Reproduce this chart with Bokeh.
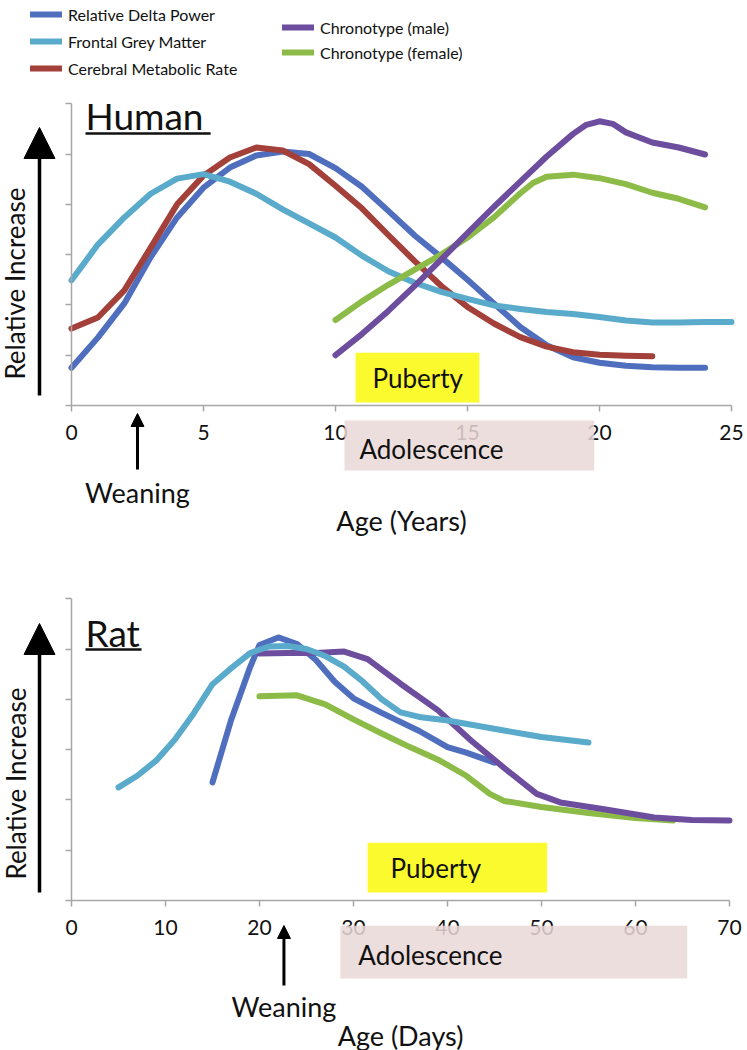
import math
from bokeh.plotting import figure
from bokeh.models import (Range1d, LinearAxis, FixedTicker, Label, Arrow, NormalHead,
                          Legend, LegendItem)
from bokeh.layouts import column
from bokeh.embed import file_html
from bokeh.resources import INLINE

FONT = "Lato"

# ---------------- data: Human (age in years) ----------------
human_delta_x = [0, 1, 2, 3, 4, 5, 6, 7, 8, 9, 10, 11, 12, 13, 14, 15, 16, 17, 18, 19, 20, 21, 22, 23, 24]
human_delta_y = [0.75, 1.35, 2.03, 2.95, 3.74, 4.33, 4.73, 4.97, 5.05, 5.0, 4.72, 4.35, 3.87, 3.38, 2.95,
                 2.5, 2.03, 1.56, 1.2, 0.96, 0.85, 0.79, 0.76, 0.75, 0.75]
human_grey_x = [0, 1, 2, 3, 4, 5, 6, 7, 8, 9, 10, 11, 12, 13, 14, 15, 16, 17, 18, 19, 20, 21, 22, 23, 24, 25]
human_grey_y = [2.49, 3.2, 3.74, 4.21, 4.51, 4.6, 4.45, 4.21, 3.9, 3.62, 3.34, 2.98, 2.67, 2.44, 2.26,
                2.12, 1.99, 1.92, 1.86, 1.82, 1.76, 1.69, 1.65, 1.65, 1.66, 1.66]
human_cmr_x = [0, 1, 2, 3, 4, 5, 6, 7, 8, 9, 10, 11, 12, 13, 14, 15, 16, 17, 18, 19, 20, 21, 22]
human_cmr_y = [1.53, 1.75, 2.29, 3.14, 4.0, 4.57, 4.93, 5.13, 5.07, 4.8, 4.37, 3.92, 3.39, 2.87, 2.38,
               1.96, 1.63, 1.36, 1.17, 1.06, 1.01, 0.99, 0.98]
human_male_x = [10, 11, 12, 13, 14, 15, 16, 17, 18, 19, 19.5, 20, 20.5, 21, 22, 23, 24]
human_male_y = [1.0, 1.42, 1.88, 2.38, 2.9, 3.43, 3.95, 4.45, 4.95, 5.4, 5.58, 5.65, 5.6, 5.43, 5.23, 5.13, 4.99]
human_female_x = [10, 11, 12, 13, 14, 15, 16, 17, 17.5, 18, 19, 20, 21, 22, 23, 24]
human_female_y = [1.7, 2.07, 2.4, 2.7, 3.0, 3.34, 3.74, 4.22, 4.43, 4.55, 4.59, 4.52, 4.4, 4.23, 4.11, 3.94]

human_xticks = [0, 5, 10, 15, 20, 25]
human_yticks = [0, 1, 2, 3, 4, 5, 6]
human_puberty = (10.76, 15.45)
human_adolescence = (10.34, 19.8)
human_weaning = 2.5

# ---------------- data: Rat (age in days) ----------------
rat_delta_x = [15, 17, 19, 20, 22, 24, 26, 28, 30, 33, 37, 40, 42, 45]
rat_delta_y = [2.35, 3.6, 4.64, 5.08, 5.23, 5.1, 4.78, 4.35, 4.02, 3.73, 3.37, 3.05, 2.94, 2.74]
rat_grey_x = [5, 7, 9, 11, 13, 15, 17, 19, 21, 23, 25, 27, 29, 31, 33, 35, 37, 40, 43, 46, 50, 55]
rat_grey_y = [2.25, 2.48, 2.78, 3.2, 3.72, 4.3, 4.62, 4.92, 5.05, 5.06, 5.0, 4.86, 4.65, 4.35, 4.0, 3.74,
              3.65, 3.58, 3.48, 3.38, 3.25, 3.14]
rat_male_x = [20, 23, 26, 29, 31.5, 35, 39, 42.5, 46, 49.5, 52, 56.5, 62, 66, 70]
rat_male_y = [4.91, 4.92, 4.92, 4.95, 4.8, 4.31, 3.78, 3.18, 2.64, 2.12, 1.95, 1.82, 1.65, 1.6, 1.59]
rat_female_x = [20, 24, 27, 30, 33, 36, 39, 42, 44.5, 46, 50, 55, 60, 64]
rat_female_y = [4.06, 4.08, 3.9, 3.6, 3.32, 3.05, 2.8, 2.48, 2.12, 1.98, 1.86, 1.74, 1.64, 1.59]

rat_xticks = [0, 10, 20, 30, 40, 50, 60, 70]
rat_yticks = [0, 1, 2, 3, 4, 5, 6]
rat_puberty = (31.5, 50.6)
rat_adolescence = (28.6, 65.5)
rat_weaning = 22.6

# ---------------- styles ----------------
BLUE = "#4F6FBE"
LBLUE = "#5AABCB"
RED = "#A3403A"
PURPLE = "#6D4D9D"
GREEN = "#8CBB48"
YELLOW = "#FAFA2E"
PINK = "#EAD8D8"
AXIS = "#A6A6A6"
TXT = "#111111"
LW = 6


def make_fig(height, xr, yr, xticks, yticks, xlabel, label_standoff):
    p = figure(width=747, height=height, x_range=Range1d(*xr), y_range=Range1d(*yr),
               output_backend="svg", toolbar_location=None, min_border=0,
               x_axis_type=None, y_axis_type=None)
    p.outline_line_color = None
    xa = LinearAxis(fixed_location=0, bounds=(xticks[0], xticks[-1]),
                    ticker=FixedTicker(ticks=xticks))
    xa.axis_line_color = AXIS
    xa.axis_line_width = 1.5
    xa.major_tick_line_color = AXIS
    xa.major_tick_line_width = 1.5
    xa.major_tick_out = 6
    xa.major_tick_in = 0
    xa.minor_tick_line_color = None
    xa.major_label_standoff = 13
    xa.major_label_text_font = FONT
    xa.major_label_text_font_size = "21px"
    xa.major_label_text_color = TXT
    xa.axis_label = xlabel
    xa.axis_label_text_font = FONT
    xa.axis_label_text_font_size = "27px"
    xa.axis_label_text_font_style = "normal"
    xa.axis_label_text_color = TXT
    xa.axis_label_standoff = label_standoff
    p.add_layout(xa, "below")
    ya = LinearAxis(fixed_location=0, bounds=(yticks[0], yticks[-1]),
                    ticker=FixedTicker(ticks=yticks))
    ya.axis_line_color = AXIS
    ya.axis_line_width = 1.5
    ya.major_tick_line_color = AXIS
    ya.major_tick_line_width = 1.5
    ya.major_tick_out = 6
    ya.major_tick_in = 0
    ya.minor_tick_line_color = None
    ya.major_label_overrides = {t: "" for t in yticks}
    p.add_layout(ya, "left")
    return p


def decorate(p, title, title_x, title_y, ul_x1, ul_y, arrow_x, arr_y0, arr_y1, ri_x, ri_y,
             puberty, pub_y, adol, adol_y, pub_off, adol_off, wean, wean_y0, wean_y1, wean_ty):
    # Puberty box
    p.quad(left=[puberty[0]], right=[puberty[1]], bottom=[pub_y[0]], top=[pub_y[1]],
           fill_color=YELLOW, line_color=None)
    p.add_layout(Label(x=puberty[0], y=(pub_y[0] + pub_y[1]) / 2, x_offset=pub_off, text="Puberty",
                       text_font=FONT, text_font_size="26px", text_color=TXT,
                       text_align="left", text_baseline="middle"))
    # Adolescence box (drawn over axis labels)
    p.quad(left=[adol[0]], right=[adol[1]], bottom=[adol_y[0]], top=[adol_y[1]],
           fill_color=PINK, fill_alpha=0.85, line_color=None, level="overlay")
    p.add_layout(Label(x=adol[0], y=(adol_y[0] + adol_y[1]) / 2, x_offset=adol_off, y_offset=-3,
                       text="Adolescence", text_font=FONT, text_font_size="26px", text_color=TXT,
                       text_align="left", text_baseline="middle", level="overlay"))
    # title with underline
    p.add_layout(Label(x=title_x, y=title_y, text=title, text_font=FONT, text_font_size="37px",
                       text_color=TXT, text_align="left", text_baseline="middle"))
    p.line([title_x, ul_x1], [ul_y, ul_y], line_color=TXT, line_width=2.5)
    # big axis arrow + label
    p.add_layout(Arrow(end=NormalHead(size=31, fill_color="black", line_color="black"),
                       x_start=arrow_x, y_start=arr_y0, x_end=arrow_x, y_end=arr_y1,
                       line_color="black", line_width=3.5))
    p.add_layout(Label(x=ri_x, y=ri_y, text="Relative Increase", angle=math.pi / 2,
                       text_font=FONT, text_font_size="26px", text_color=TXT,
                       text_align="center", text_baseline="middle"))
    # weaning
    p.add_layout(Arrow(end=NormalHead(size=13, fill_color="black", line_color="black"),
                       x_start=wean, y_start=wean_y0, x_end=wean, y_end=wean_y1,
                       line_color="black", line_width=3))
    p.add_layout(Label(x=wean, y=wean_ty, text="Weaning", text_font=FONT, text_font_size="27px",
                       text_color=TXT, text_align="center", text_baseline="middle"))


# ---------------- Human panel ----------------
p1 = make_fig(545, (-2.689, 25.606), (-2.783, 8.052), human_xticks, human_yticks, "Age (Years)", 61)
decorate(p1, "Human", 0.53, 5.765, 5.27, 5.408, -1.212, 0.199, 5.527, -2.121, 2.425,
         human_puberty, (0.06, 1.05), human_adolescence, (-1.29, -0.30), 17, 15,
         human_weaning, -1.272, -0.159, -1.73)

kw = dict(line_width=LW, line_cap="round", line_join="round")
r_delta = p1.line(human_delta_x, human_delta_y, line_color=BLUE, **kw)
r_cmr = p1.line(human_cmr_x, human_cmr_y, line_color=RED, **kw)
r_grey = p1.line(human_grey_x, human_grey_y, line_color=LBLUE, **kw)
r_female = p1.line(human_female_x, human_female_y, line_color=GREEN, **kw)
r_male = p1.line(human_male_x, human_male_y, line_color=PURPLE, **kw)


def mk_legend(items, loc, spacing):
    lg = Legend(items=items, location=loc, orientation="vertical", padding=0, margin=0,
                spacing=spacing, glyph_width=32, glyph_height=20, label_height=20,
                label_standoff=6, label_text_font=FONT, label_text_font_size="16px",
                label_text_color=TXT, border_line_color=None, background_fill_alpha=0)
    return lg


p1.add_layout(mk_legend([LegendItem(label="Relative Delta Power", renderers=[r_delta]),
                         LegendItem(label="Frontal Grey Matter", renderers=[r_grey]),
                         LegendItem(label="Cerebral Metabolic Rate", renderers=[r_cmr])],
                        (30, 467), 7))
p1.add_layout(mk_legend([LegendItem(label="Chronotype (male)", renderers=[r_male]),
                         LegendItem(label="Chronotype (female)", renderers=[r_female])],
                        (282, 483), 5))

# ---------------- Rat panel ----------------
p2 = make_fig(505, (-7.553, 71.915), (-2.982, 7.058), rat_xticks, rat_yticks, "Age (Days)", 81)
decorate(p2, "Rat", 1.49, 5.338, 7.45, 4.99, -3.404, 0.159, 5.507, -5.957, 2.326,
         rat_puberty, (0.16, 1.15), rat_adolescence, (-1.55, -0.50), 23, 18,
         rat_weaning, -1.690, -0.497, -2.107)

p2.line(rat_delta_x, rat_delta_y, line_color=BLUE, **kw)
p2.line(rat_female_x, rat_female_y, line_color=GREEN, **kw)
p2.line(rat_male_x, rat_male_y, line_color=PURPLE, **kw)
p2.line(rat_grey_x, rat_grey_y, line_color=LBLUE, **kw)

layout = column(p1, p2, spacing=0)
open("out.html", "w").write(file_html(layout, INLINE))
